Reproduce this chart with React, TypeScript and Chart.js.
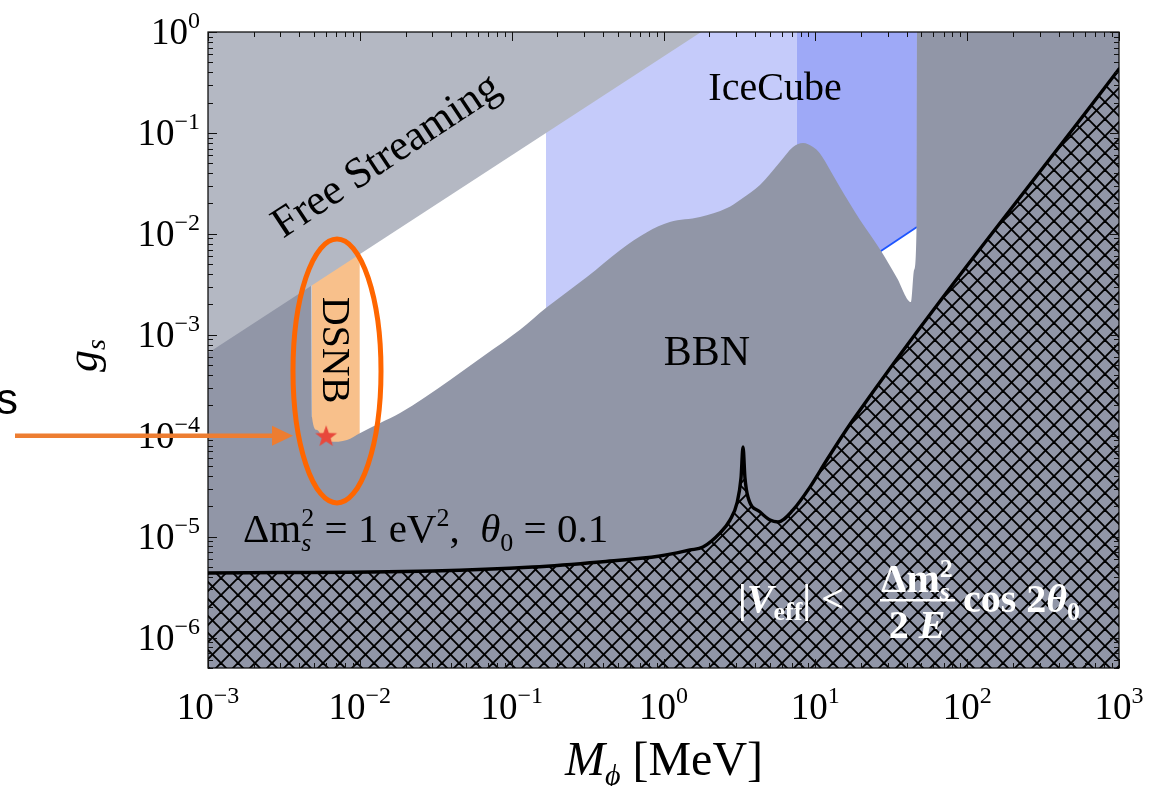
import React, { useEffect, useRef } from "react";
import { Chart, registerables } from "chart.js";

Chart.register(...registerables);

// ---------- axis ranges & ticks ----------
const X_MIN = 1e-3;
const X_MAX = 1e3;
const Y_MIN = 5e-7;
const Y_MAX = 1;
const xTickExponents = [-3, -2, -1, 0, 1, 2, 3];
const yTickExponents = [0, -1, -2, -3, -4, -5, -6];

// ---------- data (M_phi [MeV], g_s) ----------
const freeStreamingM = [1e-3, 1.77];
const freeStreamingG = [6.6e-4, 1];

const bbnM = [1e-3, 4.76e-3, 4.84e-3, 5.22e-3, 5.71e-3, 6.36e-3, 8.23e-3, 1.0e-2, 1.36e-2, 1.84e-2, 3.93e-2, 6.67e-2, 0.1135, 0.168, 0.313, 0.517, 0.778, 1.1, 1.74, 2.62, 3.19, 4.32, 5.85, 7.13, 8.3, 9.66, 10.7, 12.5, 14.5, 19.7, 27.1, 34.5, 42.7, 44.7, 46.4, 46.7, 1000];
const bbnG = [1, 1, 1.53e-4, 1.14e-4, 9.5e-5, 8.7e-5, 9.1e-5, 1.06e-4, 1.34e-4, 1.68e-4, 3.57e-4, 6.3e-4, 1.12e-3, 1.84e-3, 3.74e-3, 6.9e-3, 1.04e-2, 1.31e-2, 1.47e-2, 1.8e-2, 2.17e-2, 3.05e-2, 5.15e-2, 7.26e-2, 7.95e-2, 7.26e-2, 6.3e-2, 4.3e-2, 2.91e-2, 1.37e-2, 6.77e-3, 3.66e-3, 2.11e-3, 4.39e-3, 1.14e-2, 1, 1];

const iceCubeLightM = [0.168, 7.57];
const iceCubeLightG = [1e-4, 1e-4];
const iceCubeDarkM = [7.57, 46.7];
const iceCubeDarkG = [1.89e-3, 1.17e-2];

const dsnbM = [4.84e-3, 1.0e-2];
const dsnbG = [1e-5, 1e-5];

const vEffM = [1e-3, 3.03e-2, 0.138, 0.382, 0.948, 1.495, 1.82, 2.36, 2.74, 3.05, 3.24, 3.34, 3.44, 3.6, 4.32, 5.03, 5.68, 7.13, 9.22, 11.9, 17.7, 1000];
const vEffG = [4.37e-6, 4.57e-6, 5.0e-6, 5.62e-6, 6.44e-6, 7.38e-6, 7.9e-6, 1.09e-5, 1.46e-5, 2.16e-5, 3.82e-5, 7.74e-5, 3.82e-5, 2.47e-5, 1.76e-5, 1.46e-5, 1.4e-5, 1.84e-5, 3.1e-5, 5.75e-5, 1.43e-4, 0.43];

const benchmarkM = [6e-3];
const benchmarkG = [1e-4];

// ---------- styling ----------
const SERIF = '"Liberation Serif", "Times New Roman", "DejaVu Serif", serif';
const SANS = '"Liberation Sans", Arial, sans-serif';

const pts = (xs: number[], ys: number[]) => xs.map((x, i) => ({ x, y: ys[i] }));

function makeHatch(): CanvasPattern | string {
  const P = 17;
  const c = document.createElement("canvas");
  c.width = P;
  c.height = P;
  const g = c.getContext("2d");
  if (!g) return "rgba(0,0,0,0)";
  g.strokeStyle = "#000";
  g.lineWidth = 1.9;
  for (let k = -1; k <= 1; k++) {
    g.beginPath();
    g.moveTo(k * P - 2, -2);
    g.lineTo(k * P + P + 2, P + 2);
    g.stroke();
    g.beginPath();
    g.moveTo(k * P - 2, P + 2);
    g.lineTo(k * P + P + 2, -2);
    g.stroke();
  }
  return g.createPattern(c, "repeat") || "rgba(0,0,0,0)";
}

function makeStar(): HTMLCanvasElement {
  const c = document.createElement("canvas");
  c.width = 26;
  c.height = 26;
  const g = c.getContext("2d")!;
  const cx = 13, cy = 14, R = 11.5, r = 4.7;
  g.beginPath();
  for (let i = 0; i < 10; i++) {
    const a = -Math.PI / 2 + (i * Math.PI) / 5;
    const rad = i % 2 === 0 ? R : r;
    const x = cx + rad * Math.cos(a);
    const y = cy + rad * Math.sin(a);
    if (i === 0) g.moveTo(x, y);
    else g.lineTo(x, y);
  }
  g.closePath();
  g.fillStyle = "#e8483b";
  g.fill();
  return c;
}

type Seg = { t: string; f: string; dy?: number; stack?: boolean };

function drawRich(ctx: CanvasRenderingContext2D, segs: Seg[], x: number, y: number, align: "left" | "center" | "right", color: string) {
  const items: { t: string; f: string; dy: number; x: number }[] = [];
  let cur = 0;
  let i = 0;
  while (i < segs.length) {
    const s = segs[i];
    ctx.font = s.f;
    const w = ctx.measureText(s.t).width;
    if (s.stack && i + 1 < segs.length) {
      const n = segs[i + 1];
      ctx.font = n.f;
      const w2 = ctx.measureText(n.t).width;
      items.push({ t: s.t, f: s.f, dy: s.dy || 0, x: cur });
      items.push({ t: n.t, f: n.f, dy: n.dy || 0, x: cur });
      cur += Math.max(w, w2);
      i += 2;
    } else {
      items.push({ t: s.t, f: s.f, dy: s.dy || 0, x: cur });
      cur += w;
      i += 1;
    }
  }
  const x0 = align === "center" ? x - cur / 2 : align === "right" ? x - cur : x;
  ctx.fillStyle = color;
  ctx.textAlign = "left";
  ctx.textBaseline = "alphabetic";
  for (const it of items) {
    ctx.font = it.f;
    ctx.fillText(it.t, x0 + it.x, y + it.dy);
  }
  return cur;
}

const supText = (e: number) => (e < 0 ? "\u2212" + String(-e) : String(e));

const decorPlugin = {
  id: "decor",
  afterDraw(chart: any) {
    const ctx: CanvasRenderingContext2D = chart.ctx;
    const xs = chart.scales.x;
    const ys = chart.scales.y;
    const { left, right, top, bottom } = chart.chartArea;
    ctx.save();

    // frame
    ctx.strokeStyle = "#000";
    ctx.lineWidth = 1.2;
    ctx.strokeRect(left, top, right - left, bottom - top);

    // ticks (inside, all four sides)
    ctx.lineWidth = 1;
    ctx.strokeStyle = "#111";
    for (let d = -3; d <= 3; d++) {
      for (let k = 1; k <= 9; k++) {
        const v = k * Math.pow(10, d);
        if (v < X_MIN * 0.999 || v > X_MAX * 1.001) continue;
        const px = Math.round(xs.getPixelForValue(v)) + 0.5;
        const len = k === 1 ? 9 : 5;
        ctx.beginPath();
        ctx.moveTo(px, bottom);
        ctx.lineTo(px, bottom - len);
        ctx.moveTo(px, top);
        ctx.lineTo(px, top + len);
        ctx.stroke();
      }
    }
    for (let d = -7; d <= 0; d++) {
      for (let k = 1; k <= 9; k++) {
        const v = k * Math.pow(10, d);
        if (v < Y_MIN * 0.999 || v > Y_MAX * 1.001) continue;
        const py = Math.round(ys.getPixelForValue(v)) + 0.5;
        const len = k === 1 ? 9 : 5;
        ctx.beginPath();
        ctx.moveTo(left, py);
        ctx.lineTo(left + len, py);
        ctx.moveTo(right, py);
        ctx.lineTo(right - len, py);
        ctx.stroke();
      }
    }

    // tick labels
    const tickFont = `37px ${SERIF}`;
    const supFont = `24px ${SERIF}`;
    for (const e of xTickExponents) {
      const px = xs.getPixelForValue(Math.pow(10, e));
      drawRich(ctx, [{ t: "10", f: tickFont }, { t: supText(e), f: supFont, dy: -16 }], px, 719, "center", "#000");
    }
    for (const e of yTickExponents) {
      const py = ys.getPixelForValue(Math.pow(10, e));
      drawRich(ctx, [{ t: "10", f: tickFont }, { t: supText(e), f: supFont, dy: -16 }], 200, py + 12, "right", "#000");
    }

    // axis titles
    drawRich(
      ctx,
      [
        { t: "M", f: `italic 48px ${SERIF}` },
        { t: "\u03d5", f: `italic 30px ${SERIF}`, dy: 10 },
        { t: " [MeV]", f: `48px ${SERIF}` },
      ],
      664,
      775,
      "center",
      "#000"
    );
    ctx.save();
    ctx.translate(97, 372);
    ctx.rotate(-Math.PI / 2);
    drawRich(ctx, [{ t: "g", f: `italic 44px ${SERIF}` }, { t: "s", f: `italic 28px ${SERIF}`, dy: 8 }], 0, 0, "left", "#000");
    ctx.restore();

    // region labels
    ctx.save();
    ctx.translate(393, 166);
    ctx.rotate((-33.5 * Math.PI) / 180);
    ctx.font = `43px ${SERIF}`;
    ctx.fillStyle = "#000";
    ctx.textAlign = "center";
    ctx.textBaseline = "alphabetic";
    ctx.fillText("Free Streaming", 0, 0);
    ctx.restore();

    ctx.font = `40px ${SERIF}`;
    ctx.fillStyle = "#000";
    ctx.textAlign = "center";
    ctx.textBaseline = "alphabetic";
    ctx.fillText("IceCube", 775, 100);
    ctx.font = `42px ${SERIF}`;
    ctx.fillText("BBN", 707, 365);

    ctx.save();
    ctx.translate(323, 350);
    ctx.rotate(Math.PI / 2);
    ctx.font = `40px ${SERIF}`;
    ctx.textAlign = "center";
    ctx.fillText("DSNB", 0, 0);
    ctx.restore();

    // parameter text
    const R41 = `41px ${SERIF}`;
    const I41 = `italic 41px ${SERIF}`;
    const R26 = `26px ${SERIF}`;
    const I26 = `italic 26px ${SERIF}`;
    drawRich(
      ctx,
      [
        { t: "\u0394m", f: R41 },
        { t: "s", f: I26, dy: 9, stack: true },
        { t: "2", f: R26, dy: -16 },
        { t: " = 1 eV", f: R41 },
        { t: "2", f: R26, dy: -16 },
        { t: ",  ", f: R41 },
        { t: "\u03b8", f: I41 },
        { t: "0", f: R26, dy: 9 },
        { t: " = 0.1", f: R41 },
      ],
      243,
      542,
      "left",
      "#000"
    );

    // white formula in hatched region
    const B40 = `bold 40px ${SERIF}`;
    const BI40 = `bold italic 40px ${SERIF}`;
    const B26 = `bold 26px ${SERIF}`;
    const BI26 = `bold italic 26px ${SERIF}`;
    drawRich(
      ctx,
      [
        { t: "|", f: B40 },
        { t: "V", f: BI40 },
        { t: "eff", f: B26, dy: 8 },
        { t: "|", f: B40 },
        { t: " <", f: B40 },
      ],
      738,
      612,
      "left",
      "#fff"
    );
    drawRich(
      ctx,
      [
        { t: "\u0394m", f: B40 },
        { t: "s", f: BI26, dy: 8, stack: true },
        { t: "2", f: B26, dy: -15 },
      ],
      917,
      592,
      "center",
      "#fff"
    );
    ctx.fillStyle = "#fff";
    ctx.fillRect(880, 599, 75, 2.5);
    drawRich(ctx, [{ t: "2 ", f: B40 }, { t: "E", f: BI40 }], 917, 638, "center", "#fff");
    drawRich(
      ctx,
      [
        { t: "cos 2", f: B40 },
        { t: "\u03b8", f: BI40 },
        { t: "0", f: B26, dy: 8 },
      ],
      963,
      612,
      "left",
      "#fff"
    );

    // highlight ellipse around DSNB
    ctx.beginPath();
    ctx.ellipse(337, 371, 44, 132, 0, 0, Math.PI * 2);
    ctx.strokeStyle = "#ff6600";
    ctx.lineWidth = 5;
    ctx.stroke();

    // arrow from the left margin
    const ay = ys.getPixelForValue(1e-4);
    ctx.strokeStyle = "#ed7d31";
    ctx.fillStyle = "#ed7d31";
    ctx.lineWidth = 4.5;
    ctx.beginPath();
    ctx.moveTo(15, ay);
    ctx.lineTo(276, ay);
    ctx.stroke();
    ctx.beginPath();
    ctx.moveTo(272, ay - 10);
    ctx.lineTo(293, ay);
    ctx.lineTo(272, ay + 10);
    ctx.closePath();
    ctx.fill();

    // clipped "s" at far left
    ctx.font = `44px ${SANS}`;
    ctx.fillStyle = "#000";
    ctx.textAlign = "left";
    ctx.fillText("s", -4, 414);

    ctx.restore();
  },
};

export default function App() {
  const ref = useRef<HTMLCanvasElement>(null);
  useEffect(() => {
    const canvas = ref.current;
    if (!canvas) return;
    const hatch = makeHatch();
    const star = makeStar();
    const chart = new Chart(canvas, {
      type: "line",
      data: {
        datasets: [
          { label: "IceCube", data: pts(iceCubeLightM, iceCubeLightG), fill: "end", backgroundColor: "#c5cbfa", borderColor: "transparent", borderWidth: 0, pointRadius: 0, order: 7 },
          { label: "IceCube strong", data: pts(iceCubeDarkM, iceCubeDarkG), fill: "end", backgroundColor: "#9ea9f7", borderColor: "#1d55ff", borderWidth: 1.8, pointRadius: 0, order: 6 },
          { label: "DSNB", data: pts(dsnbM, dsnbG), fill: "end", backgroundColor: "#f8c08b", borderColor: "transparent", borderWidth: 0, pointRadius: 0, order: 5 },
          { label: "BBN", data: pts(bbnM, bbnG), fill: "start", backgroundColor: "#9196a7", borderColor: "transparent", borderWidth: 0, pointRadius: 0, cubicInterpolationMode: "monotone", order: 4 },
          { label: "Free Streaming", data: pts(freeStreamingM, freeStreamingG), fill: "end", backgroundColor: "#b4b8c3", borderColor: "transparent", borderWidth: 0, pointRadius: 0, order: 3 },
          { label: "Veff", data: pts(vEffM, vEffG), fill: "start", backgroundColor: hatch as any, borderColor: "#000", borderWidth: 3.4, borderJoinStyle: "round", borderCapStyle: "round", cubicInterpolationMode: "monotone", pointRadius: 0, order: 2 },
          { label: "benchmark", data: pts(benchmarkM, benchmarkG), showLine: false, pointStyle: star as any, pointRadius: 11, order: 1 },
        ] as any,
      },
      options: {
        animation: false,
        responsive: false,
        maintainAspectRatio: false,
        devicePixelRatio: 1,
        events: [],
        layout: { padding: { left: 0, top: 32, right: 44, bottom: 0 } },
        plugins: { legend: { display: false }, tooltip: { enabled: false } },
        elements: { line: { tension: 0 } },
        scales: {
          x: {
            type: "logarithmic",
            min: X_MIN,
            max: X_MAX,
            grid: { display: false },
            border: { display: false },
            ticks: { display: false },
            afterFit: (s: any) => {
              s.height = 118;
            },
          },
          y: {
            type: "logarithmic",
            min: Y_MIN,
            max: Y_MAX,
            grid: { display: false },
            border: { display: false },
            ticks: { display: false },
            afterFit: (s: any) => {
              s.width = 208;
            },
          },
        },
      } as any,
      plugins: [decorPlugin],
    });
    return () => chart.destroy();
  }, []);
  return (
    <div style={{ position: "absolute", left: 0, top: 0, width: 1163, height: 786, background: "#fff" }}>
      <canvas ref={ref} width={1163} height={786} style={{ display: "block" }} />
    </div>
  );
}
